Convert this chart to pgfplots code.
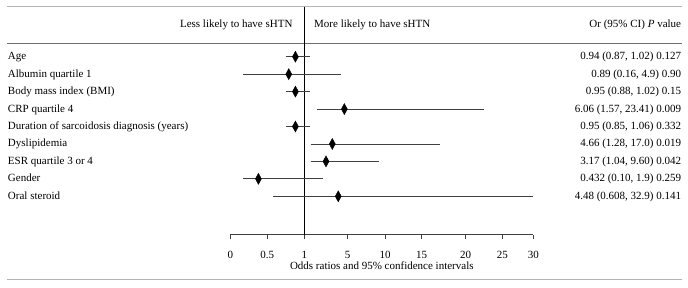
\documentclass[border=0pt]{standalone}
\usepackage{fontspec}
\setmainfont{Liberation Serif}
\usepackage{pgfplots}
\pgfplotsset{compat=1.18}
\definecolor{lightrule}{HTML}{B4B4B4}
\definecolor{darkrule}{HTML}{707070}
\definecolor{whisk}{HTML}{404040}
\begin{document}
\begin{tikzpicture}[font=\fontsize{11}{13}\selectfont]
\path[use as bounding box] (0,0) rectangle (688pt,287pt);
\begin{axis}[
  at={(230.3pt,52.3pt)}, anchor=south west,
  x=1pt, y=17.45pt,
  x coord trafo/.code={\pgfmathparse{(#1<=1) ? (230.3+74*#1) : ((#1<=5) ? (304.3+10.85*(#1-1)) : ((#1<=10) ? (347.7+7.46*(#1-5)) : ((#1<=15) ? (385+7.34*(#1-10)) : ((#1<=20) ? (421.7+8.8*(#1-15)) : ((#1<=25) ? (465.7+7.32*(#1-20)) : (502.3+6.2*(#1-25)))))))}},
  xmin=0, xmax=30, ymin=-1.2, ymax=11.865,
  axis x line*=bottom, axis y line=none,
  x axis line style={whisk, line width=0.8pt},
  xtick={0,0.5,1,5,10,15,20,25,30},
  xticklabels={0,0.5,1,5,10,15,20,25,30},
  tick align=outside, major tick length=4.7pt,
  x tick style={whisk, line width=0.8pt},
  xticklabel style={anchor=base, inner sep=0pt, yshift=-19.5pt},
  xlabel={Odds ratios and 95\% confidence intervals},
  xlabel style={at={(axis description cs:0.5,0)}, anchor=base, inner sep=0pt, yshift=-35pt},
  clip=false,
]
% rules
\draw[lightrule, line width=0.8pt] (axis cs:0,11.865) ++(-223pt,0pt) -- ++(675pt,0pt);
\draw[darkrule, line width=1.2pt] (axis cs:0,9.768) ++(-223pt,0pt) -- ++(675pt,0pt);
\draw[lightrule, line width=0.8pt] (axis cs:0,-3.756) ++(-223pt,0pt) -- ++(675pt,0pt);
% reference line at OR = 1
\addplot[black, line width=0.8pt] coordinates {(1,11.865) (1,-1.2)};
% confidence intervals
\addplot[whisk, line width=0.8pt] coordinates {(0.75,9) (1.55,9)};
\addplot[whisk, line width=0.8pt] coordinates {(0.17,8) (4.38,8)};
\addplot[whisk, line width=0.8pt] coordinates {(0.75,7) (1.55,7)};
\addplot[whisk, line width=0.8pt] coordinates {(2.17,6) (22.5,6)};
\addplot[whisk, line width=0.8pt] coordinates {(0.75,5) (1.55,5)};
\addplot[whisk, line width=0.8pt] coordinates {(1.59,4) (17.1,4)};
\addplot[whisk, line width=0.8pt] coordinates {(1.59,3) (9.16,3)};
\addplot[whisk, line width=0.8pt] coordinates {(0.17,2) (2.70,2)};
\addplot[whisk, line width=0.8pt] coordinates {(0.58,1) (30,1)};
% point estimates
\addplot[only marks, mark=diamond*, mark size=5.5pt, mark options={xscale=0.73, fill=black, draw=black}]
  coordinates {(0.88,9) (0.79,8) (0.88,7) (4.69,6) (0.88,5) (3.58,4) (3.00,3) (0.38,2) (4.13,1)};
% header
\node[anchor=base east, inner sep=0pt] at (axis cs:1,10.674) [xshift=-11.6pt] {Less likely to have sHTN};
\node[anchor=base west, inner sep=0pt] at (axis cs:1,10.674) [xshift=9.7pt] {More likely to have sHTN};
\node[anchor=base east, inner sep=0pt] at (axis cs:0,10.674) [xshift=451pt] {Or (95\% CI) \textit{P} value};
% row labels
\node[anchor=base west, inner sep=0pt] at (axis cs:0,9) [xshift=-222.5pt, yshift=-3pt] {Age};
\node[anchor=base west, inner sep=0pt] at (axis cs:0,8) [xshift=-222.5pt, yshift=-3pt] {Albumin quartile 1};
\node[anchor=base west, inner sep=0pt] at (axis cs:0,7) [xshift=-222.5pt, yshift=-3pt] {Body mass index (BMI)};
\node[anchor=base west, inner sep=0pt] at (axis cs:0,6) [xshift=-222.5pt, yshift=-3pt] {CRP quartile 4};
\node[anchor=base west, inner sep=0pt] at (axis cs:0,5) [xshift=-222.5pt, yshift=-3pt] {Duration of sarcoidosis diagnosis (years)};
\node[anchor=base west, inner sep=0pt] at (axis cs:0,4) [xshift=-222.5pt, yshift=-3pt] {Dyslipidemia};
\node[anchor=base west, inner sep=0pt] at (axis cs:0,3) [xshift=-222.5pt, yshift=-3pt] {ESR quartile 3 or 4};
\node[anchor=base west, inner sep=0pt] at (axis cs:0,2) [xshift=-222.5pt, yshift=-3pt] {Gender};
\node[anchor=base west, inner sep=0pt] at (axis cs:0,1) [xshift=-222.5pt, yshift=-3pt] {Oral steroid};
% right column
\node[anchor=base east, inner sep=0pt] at (axis cs:0,9) [xshift=451pt, yshift=-3pt] {0.94 (0.87, 1.02) 0.127};
\node[anchor=base east, inner sep=0pt] at (axis cs:0,8) [xshift=451pt, yshift=-3pt] {0.89 (0.16, 4.9) 0.90};
\node[anchor=base east, inner sep=0pt] at (axis cs:0,7) [xshift=451pt, yshift=-3pt] {0.95 (0.88, 1.02) 0.15};
\node[anchor=base east, inner sep=0pt] at (axis cs:0,6) [xshift=451pt, yshift=-3pt] {6.06 (1.57, 23.41) 0.009};
\node[anchor=base east, inner sep=0pt] at (axis cs:0,5) [xshift=451pt, yshift=-3pt] {0.95 (0.85, 1.06) 0.332};
\node[anchor=base east, inner sep=0pt] at (axis cs:0,4) [xshift=451pt, yshift=-3pt] {4.66 (1.28, 17.0) 0.019};
\node[anchor=base east, inner sep=0pt] at (axis cs:0,3) [xshift=451pt, yshift=-3pt] {3.17 (1.04, 9.60) 0.042};
\node[anchor=base east, inner sep=0pt] at (axis cs:0,2) [xshift=451pt, yshift=-3pt] {0.432 (0.10, 1.9) 0.259};
\node[anchor=base east, inner sep=0pt] at (axis cs:0,1) [xshift=451pt, yshift=-3pt] {4.48 (0.608, 32.9) 0.141};
\end{axis}
\end{tikzpicture}
\end{document}
